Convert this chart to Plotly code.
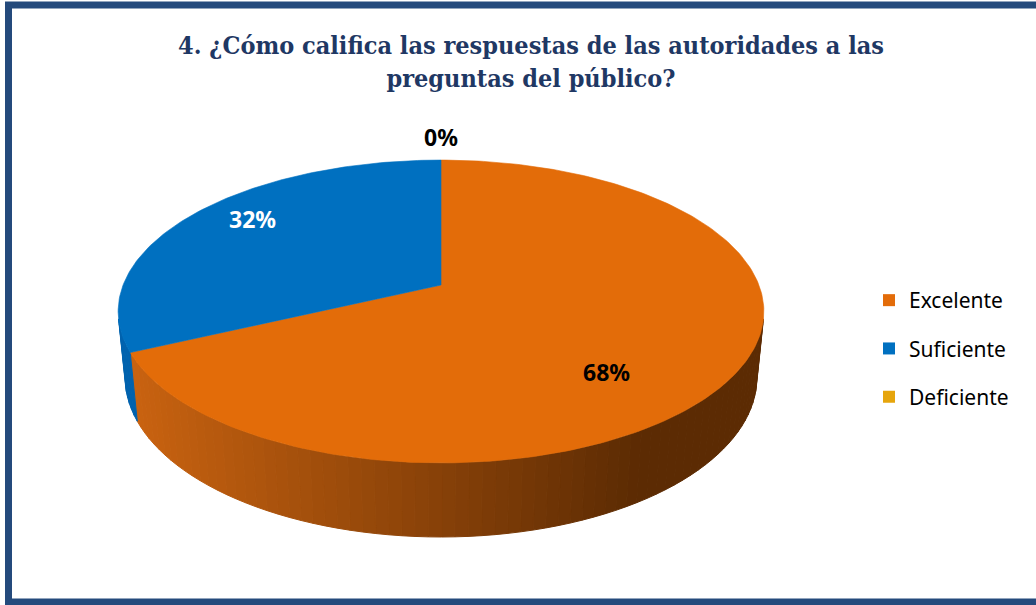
import math
import plotly.graph_objects as go

# ---------------- data ----------------
categories = ["Excelente", "Suficiente", "Deficiente"]
values = [68, 32, 0]
label_texts = ["68%", "32%", "0%"]
title_text = "4. ¿Cómo califica las respuestas de las autoridades a las<br>preguntas del público?"

# ---------------- styles ----------------
top_colors = ["#E36C09", "#0070C0", "#E6A50C"]
wall_left = (200, 98, 16)     # orange wall, light end (left)
wall_right = (92, 43, 3)      # orange wall, dark end (right)
wall_colors_flat = [None, "#0062AE", "#C28A08"]
label_colors = ["black", "white", "black"]
label_r = [0.59, 0.75, 1.22]
label_h = [0.13, -0.04, 0.0]

W, H = 1036, 605
# 3D projection parameters (camera)
CX, CY = 441, 285
BETA = math.radians(27.5)
S, C = math.sin(BETA), math.cos(BETA)
F = 1612.0
D = 5.071
DEPTH = 0.236


def proj(theta_deg, r=1.0, h=0.0):
    th = math.radians(theta_deg)
    u = r * math.sin(th)
    v = r * math.cos(th)
    zc = D + v * C + h * S
    X = F * u / zc
    Y = F * (v * S - h * C) / zc
    return CX + X, CY - Y


def arc(t0, t1, h=0.0, n=None):
    if n is None:
        n = max(2, int(abs(t1 - t0) / 1.0) + 2)
    return [proj(t0 + (t1 - t0) * i / (n - 1), 1.0, h) for i in range(n)]


total = sum(values)
starts, ends = [], []
acc = 0.0
for v in values:
    starts.append(acc / total * 360.0)
    acc += v
    ends.append(acc / total * 360.0)

# visible wall range (tangent from camera)
cam_dist = D * C
t_vis = math.degrees(math.acos(-1.0 / cam_dist))
vis0, vis1 = t_vis, 360.0 - t_vis

fig = go.Figure()

# ---- side walls ----
for i, cat in enumerate(categories):
    a0 = max(starts[i], vis0)
    a1 = min(ends[i], vis1)
    if a1 <= a0:
        continue
    nstrips = max(1, int((a1 - a0) / 2.0))
    for k in range(nstrips):
        t0 = a0 + (a1 - a0) * k / nstrips
        t1 = a0 + (a1 - a0) * (k + 1) / nstrips
        top = arc(t0, t1, 0.0, 4)
        bot = arc(t1, t0, DEPTH, 4)
        pts = top + bot + [top[0]]
        if i == 0:
            xm = (top[0][0] + top[-1][0]) / 2
            t = min(1.0, max(0.0, (xm - 135) / (640 - 135)))
            col = tuple(int(round(wall_left[j] + (wall_right[j] - wall_left[j]) * t)) for j in range(3))
            color = "rgb(%d,%d,%d)" % col
        else:
            color = wall_colors_flat[i]
        fig.add_trace(go.Scatter(
            x=[p[0] for p in pts], y=[p[1] for p in pts],
            mode="lines", fill="toself", fillcolor=color,
            line=dict(color=color, width=1),
            hoverinfo="skip", showlegend=False))

# ---- top faces ----
for i, cat in enumerate(categories):
    if ends[i] - starts[i] <= 0:
        continue
    pts = [proj(0, 0, 0)] + arc(starts[i], ends[i], 0.0) + [proj(0, 0, 0)]
    fig.add_trace(go.Scatter(
        x=[p[0] for p in pts], y=[p[1] for p in pts],
        mode="lines", fill="toself", fillcolor=top_colors[i],
        line=dict(color=top_colors[i], width=0.6),
        name=cat, hoverinfo="name", showlegend=False))

# ---- legend proxies ----
for i, cat in enumerate(categories):
    fig.add_trace(go.Scatter(
        x=[None], y=[None], mode="markers", name=cat,
        marker=dict(symbol="square", size=12, color=top_colors[i]),
        legendgroup=cat, showlegend=True))

# ---- data labels ----
for i, cat in enumerate(categories):
    mid = (starts[i] + ends[i]) / 2.0
    lx, ly = proj(mid, label_r[i], label_h[i])
    fig.add_annotation(x=lx, y=ly, xref="x", yref="y", text="<b>%s</b>" % label_texts[i],
                       showarrow=False, xanchor="center", yanchor="middle",
                       font=dict(family="Noto Sans", size=23, color=label_colors[i]))

# ---- title ----
fig.add_annotation(x=531, y=62, xref="x", yref="y", text="<b>%s</b>" % title_text,
                   showarrow=False, xanchor="center", yanchor="middle", align="center",
                   font=dict(family="DejaVu Serif Condensed", size=25, color="#1F3864"))

# ---- border ----
fig.add_shape(type="rect", xref="x", yref="y", x0=8.5, y0=5, x1=1050, y1=602,
              line=dict(color="#244A7C", width=7), fillcolor="rgba(0,0,0,0)", layer="above")

fig.update_layout(
    width=W, height=H,
    margin=dict(l=0, r=0, t=0, b=0),
    paper_bgcolor="white", plot_bgcolor="white",
    xaxis=dict(range=[0, W], visible=False, fixedrange=True),
    yaxis=dict(range=[H, 0], visible=False, fixedrange=True),
    showlegend=True,
    legend=dict(x=869 / W, y=1 - 280 / H, xanchor="left", yanchor="top",
                font=dict(family="Noto Sans", size=21, color="black"),
                traceorder="grouped", tracegroupgap=18, bgcolor="rgba(0,0,0,0)"),
)

fig.write_html("out.html", config={"displayModeBar": False},
               post_script="document.body.style.margin='0';")
